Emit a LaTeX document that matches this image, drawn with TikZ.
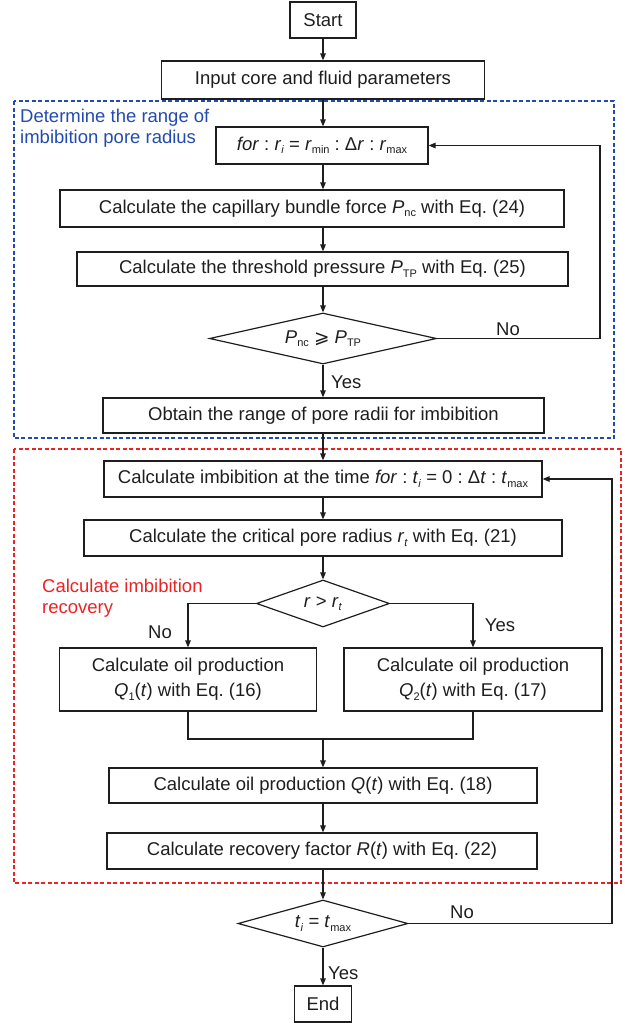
\documentclass[tikz,border=0pt]{standalone}
\usepackage{fontspec}
\setmainfont{Liberation Sans}
\newfontfamily\symfont{DejaVu Sans}
\usetikzlibrary{shapes.geometric,arrows.meta}
\definecolor{lc}{RGB}{30,30,30}
\definecolor{bl}{RGB}{35,75,175}
\definecolor{rd}{RGB}{235,35,35}
\newcommand\subs[1]{\raisebox{-0.35ex}{\fontsize{11}{11}\selectfont #1}}
\frenchspacing
\begin{document}
\begin{tikzpicture}[x=1pt,y=-1pt,
  font=\fontsize{18.5}{23}\selectfont,
  box/.style={draw=lc, line width=1.2pt, inner sep=0pt, text=lc, align=center},
  dia/.style={diamond, draw=lc, line width=1.2pt, inner sep=0pt, text=lc},
  arr/.style={draw=lc, line width=1.2pt, -{Triangle[length=7pt,width=5.5pt]}},
  ln/.style={draw=lc, line width=1.2pt},
  lbl/.style={inner sep=0pt, text=lc},
  region/.style={line width=1.1pt, dash pattern=on 4pt off 2.5pt}]
\useasboundingbox (0,0) rectangle (624,1023);
% regions
\draw[region, draw=bl] (14,101) rectangle (614,438);
\draw[region, draw=rd] (14,449) rectangle (621,883);
\node[inner sep=0pt, anchor=north west, text=bl, align=left, font=\fontsize{18.5}{21}\selectfont] (bltxt) at (20,108.5) {Determine the range of\\imbibition pore radius};
\node[inner sep=0pt, anchor=north west, text=rd, align=left, font=\fontsize{18.5}{21}\selectfont] (rdtxt) at (42,578.5) {Calculate imbibition\\recovery};
% nodes
\node[box, minimum width=66pt, minimum height=36pt] (start) at (323,20) {Start};
\node[box, minimum width=323pt, minimum height=38pt] (input) at (323,80) {Input core and fluid parameters};
\node[box, minimum width=212pt, minimum height=37pt] (for) at (322,145.5) {\textit{for} : \textit{r}\subs{\textit{i}} = \textit{r}\subs{min} : Δ\textit{r} : \textit{r}\subs{max}};
\node[box, minimum width=504pt, minimum height=37pt] (cap) at (312,208.5) {Calculate the capillary bundle force \textit{P}\subs{nc} with Eq. (24)};
\node[box, minimum width=491pt, minimum height=34pt] (thr) at (322.5,269) {Calculate the threshold pressure \textit{P}\subs{TP} with Eq. (25)};
\node[dia, aspect=4.5, minimum width=227pt, minimum height=51pt] (d1) at (323,338.5) {\textit{P}\subs{nc} {\symfont ⩾} \textit{P}\subs{TP}};
\node[box, minimum width=441pt, minimum height=35pt] (obtain) at (323.5,415.5) {Obtain the range of pore radii for imbibition};
\node[box, minimum width=438pt, minimum height=36pt] (calc) at (323,479) {Calculate imbibition at the time \textit{for} : \textit{t}\subs{\textit{i}} = 0 : Δ\textit{t} : \textit{t}\subs{max}};
\node[box, minimum width=478pt, minimum height=36pt] (crit) at (323,538) {Calculate the critical pore radius \textit{r}\subs{\textit{t}} with Eq. (21)};
\node[dia, aspect=2.8, minimum width=133pt, minimum height=47pt] (d2) at (323,603.5) {\textit{r} > \textit{r}\subs{\textit{t}}};
\node[box, minimum width=257pt, minimum height=63pt, font=\fontsize{18.5}{25}\selectfont] (q1) at (188,679.5) {Calculate oil production\\\textit{Q}\subs{1}(\textit{t}) with Eq. (16)};
\node[box, minimum width=258pt, minimum height=63pt, font=\fontsize{18.5}{25}\selectfont] (q2) at (473,679.5) {Calculate oil production\\\textit{Q}\subs{2}(\textit{t}) with Eq. (17)};
\node[box, minimum width=428pt, minimum height=35pt] (q) at (323,785.5) {Calculate oil production \textit{Q}(\textit{t}) with Eq. (18)};
\node[box, minimum width=430pt, minimum height=36pt] (rf) at (322,851) {Calculate recovery factor \textit{R}(\textit{t}) with Eq. (22)};
\node[dia, aspect=3.6, minimum width=170pt, minimum height=47pt] (d3) at (323,923.5) {\textit{t}\subs{\textit{i}} = \textit{t}\subs{max}};
\node[box, minimum width=57pt, minimum height=36pt] (end) at (323,1004) {End};
% labels
\node[lbl] (no1) at (508,329) {No};
\node[lbl, anchor=west] (yes1) at (331,382) {Yes};
\node[lbl] (no2) at (160,632) {No};
\node[lbl] (yes2) at (500,625) {Yes};
\node[lbl] (no3) at (462,912) {No};
\node[lbl, anchor=west] (yes3) at (328,973) {Yes};
% coordinates
\coordinate (l1) at (600,338.5);
\coordinate (l2) at (612,923.5);
\coordinate (m) at (323,739);
% connectors
\draw[arr] (start) -- (input);
\draw[arr] (input) -- (input |- for.north);
\draw[arr] (for.south -| input) -- (input |- cap.north);
\draw[arr] (input |- cap.south) -- (input |- thr.north);
\draw[arr] (input |- thr.south) -- (d1.north);
\draw[ln] (d1.east) -- (l1);
\draw[arr] (l1) |- (for.east);
\draw[arr] (d1.south) -- (d1.south |- obtain.north);
\draw[arr] (d1.south |- obtain.south) -- (d1.south |- calc.north);
\draw[arr] (calc) -- (crit);
\draw[arr] (crit) -- (d2);
\draw[arr] (d2.west) -| (q1.north);
\draw[arr] (d2.east) -| (q2.north);
\draw[ln] (q1.south) |- (m) -| (q2.south);
\draw[arr] (m) -- (m |- q.north);
\draw[arr] (q.south) -- (q.south |- rf.north);
\draw[arr] (q.south |- rf.south) -- (d3.north);
\draw[arr] (d3) -- (end);
\draw[ln] (d3.east) -- (l2);
\draw[arr] (l2) |- (calc.east);
\end{tikzpicture}
\end{document}
